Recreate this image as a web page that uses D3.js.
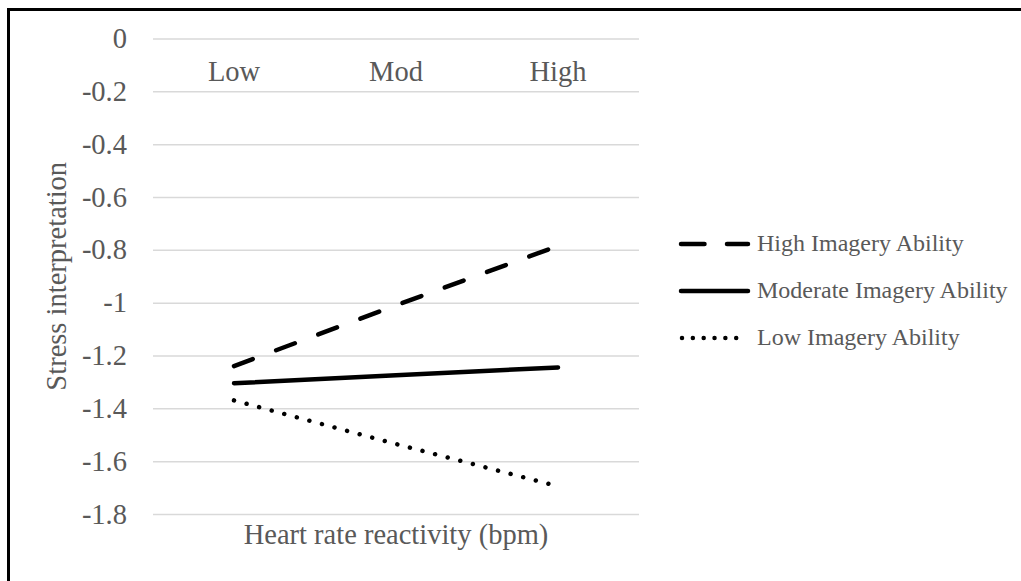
<!DOCTYPE html>
<html>
<head>
  <meta charset="utf-8">
  <title>Stress interpretation by heart rate reactivity</title>
  <script src="https://cdnjs.cloudflare.com/ajax/libs/d3/7.8.5/d3.min.js"></script>
  <style>
    html, body { margin: 0; padding: 0; background: #fff; }
    svg text { font-family: "Liberation Serif", "Times New Roman", "DejaVu Serif", serif; fill: #595959; }
  </style>
</head>
<body>
<svg width="1021" height="581"></svg>
<script>

// values
var categories = ["Low", "Mod", "High"];
var highImagery = [-1.24, -1.01, -0.785];
var moderateImagery = [-1.305, -1.275, -1.245];
var lowImagery = [-1.37, -1.535, -1.695];
var seriesNames = ["High Imagery Ability", "Moderate Imagery Ability", "Low Imagery Ability"];
var yTicks = [0, -0.2, -0.4, -0.6, -0.8, -1, -1.2, -1.4, -1.6, -1.8];

var series = [
  { name: seriesNames[0], values: highImagery, dash: "20,25", legendDash: "23.5,22.5", dotted: false },
  { name: seriesNames[1], values: moderateImagery, dash: null, legendDash: null, dotted: false },
  { name: seriesNames[2], values: lowImagery, dash: "0.01,13", legendDash: "0.01,10.83", dotted: true }
];

var svg = d3.select("svg");

// frame: only the top and left edges show
svg.append("path")
    .attr("d", "M8.5,581V9.5H1021")
    .attr("fill", "none")
    .attr("stroke", "#000")
    .attr("stroke-width", 3);

var x = d3.scalePoint()
    .domain(categories)
    .range([153, 639])
    .padding(0.5);

var y = d3.scaleLinear()
    .domain([-1.8, 0])
    .range([514, 38.5]);

// gridlines + tick labels
var yAxis = d3.axisLeft(y)
    .tickValues(yTicks)
    .tickSize(-(639 - 153))
    .tickPadding(26)
    .tickFormat(function(d) { return String(+d.toFixed(1)); });

var gy = svg.append("g")
    .attr("transform", "translate(153,0)")
    .call(yAxis);

gy.attr("font-family", null);
gy.select(".domain").remove();
gy.selectAll(".tick line")
    .attr("stroke", "#d9d9d9")
    .attr("stroke-width", 1.5);
gy.selectAll(".tick text")
    .attr("font-size", "28.5px")
    .attr("dy", "0.32em")
    .attr("fill", "#595959");

// category labels sit at the top of the plot
svg.append("g").selectAll("text")
    .data(categories)
    .enter().append("text")
      .attr("x", function(d) { return x(d); })
      .attr("y", 81)
      .attr("text-anchor", "middle")
      .attr("font-size", "28.5px")
      .text(function(d) { return d; });

// lines
var line = d3.line()
    .x(function(d, i) { return x(categories[i]); })
    .y(function(d) { return y(d); });

svg.append("g").selectAll("path")
    .data(series)
    .enter().append("path")
      .attr("d", function(d) { return line(d.values); })
      .attr("fill", "none")
      .attr("stroke", "#000")
      .attr("stroke-width", 4.5)
      .attr("stroke-linecap", "round")
      .attr("stroke-dasharray", function(d) { return d.dash; });

// axis titles
svg.append("text")
    .attr("x", (153 + 639) / 2)
    .attr("y", 544)
    .attr("text-anchor", "middle")
    .attr("font-size", "28.5px")
    .text("Heart rate reactivity (bpm)");

svg.append("text")
    .attr("transform", "translate(66," + (y(-0.9)) + ") rotate(-90)")
    .attr("text-anchor", "middle")
    .attr("font-size", "28.5px")
    .text("Stress interpretation");

// legend
var legend = svg.append("g").selectAll("g")
    .data(series)
    .enter().append("g")
      .attr("transform", function(d, i) { return "translate(0," + (244 + i * 47) + ")"; });

legend.append("line")
    .attr("x1", function(d) { return d.dotted ? 682 : 681; })
    .attr("x2", function(d) { return d.dotted ? 747 : 748; })
    .attr("stroke", "#000")
    .attr("stroke-width", 4.5)
    .attr("stroke-linecap", "round")
    .attr("stroke-dasharray", function(d) { return d.legendDash; });

legend.append("text")
    .attr("x", 757)
    .attr("dy", "0.3em")
    .attr("font-size", "24px")
    .text(function(d) { return d.name; });

</script>
</body>
</html>
